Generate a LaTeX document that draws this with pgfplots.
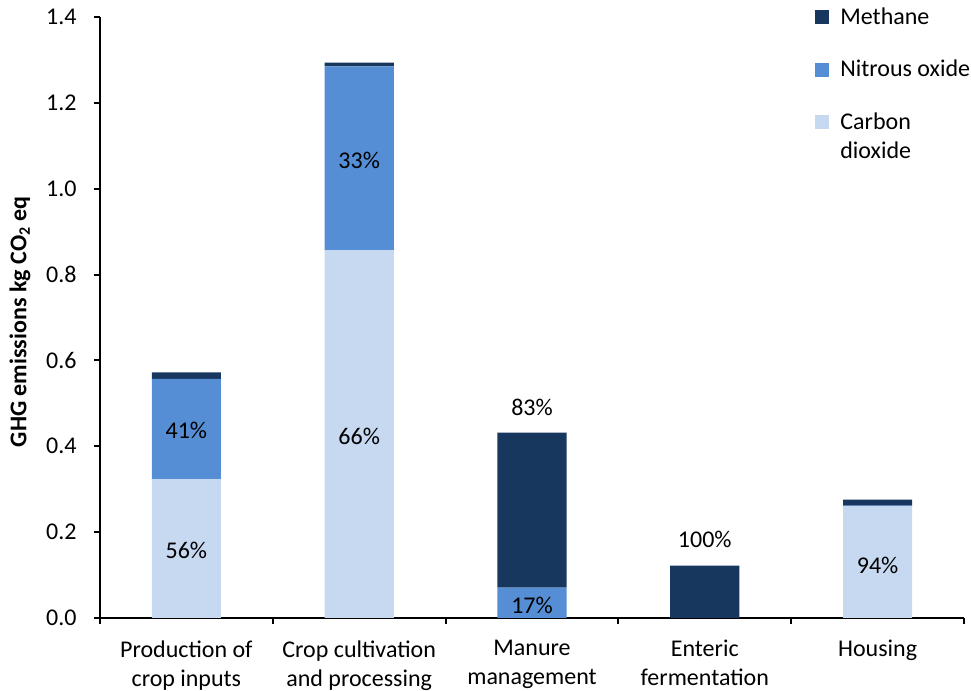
\documentclass[border=0pt]{standalone}
\usepackage{pgfplots}
\pgfplotsset{compat=1.18}
\usepackage{pgfplotstable}
\usepackage{fontspec}
\setmainfont{Carlito}

\definecolor{methane}{HTML}{17375E}
\definecolor{nitrous}{HTML}{558ED5}
\definecolor{carbon}{HTML}{C6D9F1}

% GHG emissions (kg CO2 eq) by source and gas
\pgfplotstableread{
x co2   n2o   ch4
0 0.323 0.234 0.015
1 0.857 0.428 0.009
2 0.000 0.071 0.361
3 0.000 0.000 0.122
4 0.260 0.002 0.014
}\ghg

\begin{document}
\begin{tikzpicture}[font=\fontsize{12}{14.5}\selectfont]
\useasboundingbox (-50pt,-36.5pt) rectangle (435.5pt,309pt);
\begin{axis}[
  scale only axis, width=432pt, height=300.5pt,
  ybar stacked, bar width=0.4,
  xmin=-0.5, xmax=4.5, ymin=0, ymax=1.4,
  clip=false,
  axis x line*=bottom, axis y line*=left,
  axis line style={line width=1pt, black, -},
  xtick={0,1,2,3,4},
  xticklabels={Production of\\crop inputs, Crop cultivation\\and processing, Manure\\management, Enteric\\fermentation, Housing},
  xticklabel style={align=center, anchor=north, inner sep=0pt, yshift=-8pt},
  major x tick style={draw=none},
  minor xtick={-0.5,0.5,1.5,2.5,3.5,4.5},
  ytick={0,0.2,0.4,0.6,0.8,1.0,1.2,1.4},
  /pgf/number format/assume math mode=true,
  yticklabel style={/pgf/number format/.cd, fixed, fixed zerofill, precision=1, /tikz/.cd, anchor=east, inner sep=0pt, xshift=-8.5pt},
  tick align=outside,
  major tick length=3pt, minor tick length=3pt,
  tick style={line width=1pt, black},
  legend style={at={(rel axis cs:0.8275,1)}, anchor=north west, yshift=7pt,
    draw=none, fill=none, inner sep=0pt, row sep=12.5pt, column sep=3.5pt,
    cells={anchor=base west, inner sep=0pt}},
  legend image code/.code={\fill[#1] (0pt,0pt) rectangle (7pt,7pt);},
  reverse legend,
]
\addplot[fill=carbon, draw=none] table[x=x, y=co2] {\ghg};
\addlegendentry{\vtop{\hbox{Carbon}\hbox{dioxide}}}
\addplot[fill=nitrous, draw=none] table[x=x, y=n2o] {\ghg};
\addlegendentry{Nitrous oxide}
\addplot[fill=methane, draw=none] table[x=x, y=ch4] {\ghg};
\addlegendentry{Methane}

% anchor points for the share of each gas in the source total
\coordinate (s1a) at (axis cs:0,0.158);
\coordinate (s1b) at (axis cs:0,0.436);
\coordinate (s2a) at (axis cs:1,0.422);
\coordinate (s2b) at (axis cs:1,1.067);
\coordinate (s3a) at (axis cs:2,0.491);
\coordinate (s3b) at (axis cs:2,0.029);
\coordinate (s4a) at (axis cs:3,0.184);
\coordinate (s5a) at (axis cs:4,0.123);
\coordinate (ylab) at ([xshift=-40pt]rel axis cs:0,0.493);
\end{axis}
\node at (s1a) {56\%};
\node at (s1b) {41\%};
\node at (s2a) {66\%};
\node at (s2b) {33\%};
\node at (s3a) {83\%};
\node at (s3b) {17\%};
\node at (s4a) {100\%};
\node at (s5a) {94\%};
\node[rotate=90, font=\fontsize{12}{14.5}\selectfont\bfseries] at (ylab)
  {GHG emissions kg CO\textsubscript{2} eq};
\end{tikzpicture}
\end{document}
